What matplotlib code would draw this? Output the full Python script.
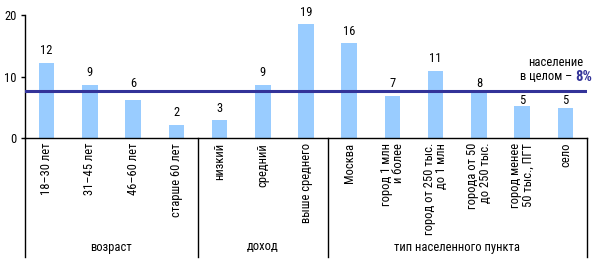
import matplotlib
matplotlib.use("Agg")
import matplotlib.pyplot as plt
from matplotlib import font_manager as fm

names = {f.name for f in fm.fontManager.ttflist}
fam = [n for n in ["Liberation Sans Narrow", "DejaVu Sans Condensed", "Roboto Condensed", "Open Sans"] if n in names]
fam = (fam[:1] or []) + ["DejaVu Sans"]
plt.rcParams['font.family'] = fam

categories = ["18–30 лет", "31–45 лет", "46–60 лет", "старше 60 лет",
              "низкий", "средний", "выше среднего",
              "Москва", "город 1 млн\nи более", "город от 250 тыс.\nдо 1 млн",
              "города от 50\nдо 250 тыс.", "город менее\n50 тыс., ПГТ", "село"]
values = [12.2, 8.6, 6.2, 2.1, 2.9, 8.6, 18.5, 15.4, 6.8, 10.9, 7.6, 5.2, 4.9]
labels = ["12", "9", "6", "2", "3", "9", "19", "16", "7", "11", "8", "5", "5"]
groups = ["возраст", "доход", "тип населенного пункта"]
group_sizes = [4, 3, 6]
overall = 7.7
yticks = [0, 10, 20]

fig = plt.figure(figsize=(5.95, 2.61), dpi=100)
W, H = 595, 261
x0, x1, yb, yt = 25, 587, 138, 15
ax = fig.add_axes([x0 / W, 1 - yb / H, (x1 - x0) / W, (yb - yt) / H])

xs = list(range(len(values)))
ax.bar(xs, values, width=0.36, color="#99CCFF", zorder=2)
ax.axhline(overall, color="#333399", lw=2.2, zorder=3)

# label placement: keep value labels clear of the overall line
gap, th, half = 1.4, 1.45, 0.25
lo, hi = overall - half, overall + half
for x, v, l in zip(xs, values, labels):
    b = v + gap
    if overall - 2.0 < v < overall + 0.6:
        b = hi + 0.35
    elif b < hi and b + th > lo:
        b = lo - 0.45 - th
    ax.text(x, b, l, ha="center", va="baseline", fontsize=9, color="black", zorder=4)

ax.set_xlim(-0.5, len(values) - 0.5)
ax.set_ylim(0, 20)
ax.set_yticks(yticks)
ax.tick_params(axis="y", direction="out", length=3, width=1, labelsize=9, pad=3)
ax.set_xticks([])
for s in ["top", "right"]:
    ax.spines[s].set_visible(False)
ax.spines["left"].set_linewidth(1)
ax.spines["bottom"].set_linewidth(1)

for x, c in zip(xs, categories):
    ax.text(x, -0.04, c, transform=ax.get_xaxis_transform(), rotation=90,
            ha="center", va="top", multialignment="right", fontsize=9,
            linespacing=0.95)

bot = -(257 - yb) / (yb - yt)
glab = -(247 - yb) / (yb - yt)
tr = ax.get_xaxis_transform()
bounds = [-0.5]
for n in group_sizes:
    bounds.append(bounds[-1] + n)
for b in bounds:
    ax.plot([b, b], [0, bot], transform=tr, color="black", lw=1, clip_on=False)
for g, a, b in zip(groups, bounds[:-1], bounds[1:]):
    ax.text((a + b) / 2, glab, g, transform=tr, ha="center", va="center", fontsize=9)

# annotation
t8 = fig.text(592 / W, 1 - 77 / H, "8%", ha="right", va="center", fontsize=10.5,
              fontweight="bold", color="#333399")
fig.canvas.draw()
bb = t8.get_window_extent()
t2 = fig.text(bb.x0 / W, 1 - 77 / H, "в целом – ", ha="right", va="center", fontsize=9)
fig.canvas.draw()
bb2 = t2.get_window_extent()
cx = (bb2.x0 + bb.x1) / 2
fig.text(cx / W, 1 - 62 / H, "население", ha="center", va="center", fontsize=9)

fig.savefig("out.png", dpi=100)
